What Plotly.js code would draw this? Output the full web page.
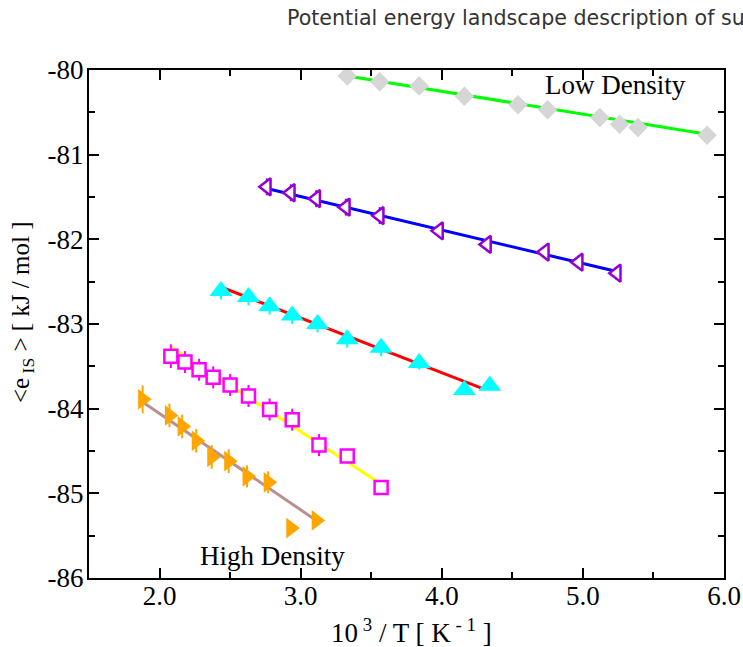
<!DOCTYPE html>
<html>
<head>
<meta charset="utf-8">
<script src="https://cdn.plot.ly/plotly-3.0.1.min.js"></script>
<style>html,body{margin:0;padding:0;background:#fff;}#chart{width:743px;height:647px;}</style>
</head>
<body>
<div id="chart"></div>
<script>
// ---- Data ----
// Low Density (grey diamonds, green fit)
var ldX = [3.33, 3.56, 3.84, 4.16, 4.54, 4.75, 5.12, 5.26, 5.39, 5.88];
var ldY = [-80.07, -80.14, -80.19, -80.31, -80.41, -80.47, -80.56, -80.64, -80.68, -80.77];
var ldFitX = [3.33, 5.88];
var ldFitY = [-80.07, -80.76];

// violet open left triangles, blue fit
var vX = [2.76, 2.93, 3.11, 3.32, 3.56, 3.98, 4.32, 4.73, 4.97, 5.24];
var vY = [-81.38, -81.45, -81.52, -81.62, -81.72, -81.90, -82.06, -82.15, -82.27, -82.40];
var vErr = [0.10, 0.10, 0.10, 0.10, 0.10, 0.08, 0.08, 0.08, 0.08, 0.08];
var vFitX = [2.76, 5.24];
var vFitY = [-81.40, -82.38];

// cyan up triangles, red fit
var cX = [2.435, 2.63, 2.78, 2.94, 3.12, 3.33, 3.57, 3.84, 4.16, 4.34];
var cY = [-82.61, -82.68, -82.79, -82.90, -83.00, -83.18, -83.28, -83.46, -83.78, -83.73];
var cErr = [0.10, 0.10, 0.10, 0.10, 0.10, 0.10, 0.10, 0.08, 0.0, 0.0];
var cFitX = [2.43, 4.30];
var cFitY = [-82.56, -83.77];

// magenta open squares, yellow fit
var mX = [2.08, 2.18, 2.28, 2.38, 2.50, 2.63, 2.78, 2.94, 3.13, 3.33, 3.57];
var mY = [-83.38, -83.45, -83.54, -83.63, -83.72, -83.85, -84.01, -84.13, -84.43, -84.56, -84.93];
var mErr = [0.14, 0.13, 0.13, 0.13, 0.13, 0.13, 0.13, 0.13, 0.13, 0.05, 0.05];
var mFitX = [2.08, 3.57];
var mFitY = [-83.27, -84.89];

// orange right triangles, brown fit (High Density)
var oX = [1.88, 2.07, 2.16, 2.26, 2.37, 2.49, 2.62, 2.77, 2.93, 3.11];
var oY = [-83.89, -84.08, -84.21, -84.38, -84.57, -84.62, -84.80, -84.87, -85.41, -85.32];
var oErr = [0.165, 0.14, 0.14, 0.14, 0.14, 0.14, 0.13, 0.13, 0.0, 0.0];
var oFitX = [1.88, 3.11];
var oFitY = [-83.92, -85.32];

// ticks
var xTickVals = [2, 3, 4, 5, 6];
var xTickLabels = ['2.0', '3.0', '4.0', '5.0', '6.0'];
var yTickVals = [-86, -85, -84, -83, -82, -81, -80];
var yTickLabels = ['-86', '-85', '-84', '-83', '-82', '-81', '-80'];

var serif = 'Liberation Serif';

function fitLine(x, y, color) {
  return {x: x, y: y, type: 'scatter', mode: 'lines', line: {color: color, width: 3}, hoverinfo: 'skip', showlegend: false};
}
function pts(x, y, err, symbol, size, fill, lineColor, lw) {
  var t = {x: x, y: y, type: 'scatter', mode: 'markers', showlegend: false,
    marker: {symbol: symbol, size: size, color: fill, line: {color: lineColor, width: lw}}};
  if (err) t.error_y = {type: 'data', array: err, visible: true, color: lineColor, thickness: 2, width: 0};
  return t;
}

var data = [
  fitLine(ldFitX, ldFitY, '#00ff00'),
  fitLine(vFitX, vFitY, '#0000ff'),
  fitLine(cFitX, cFitY, '#ff0000'),
  fitLine(mFitX, mFitY, '#ffff00'),
  fitLine(oFitX, oFitY, '#bc8f8f'),
  pts(ldX, ldY, null, 'diamond', 15, '#d6d6d6', '#d6d6d6', 0),
  pts(vX, vY, vErr, 'triangle-left', 15, '#ffffff', '#9400d3', 2.5),
  pts(cX, cY, cErr, 'triangle-up', 20, '#00ffff', '#00ffff', 0),
  pts(mX, mY, mErr, 'square', 13, '#ffffff', '#ff00ff', 2.5),
  pts(oX, oY, oErr, 'triangle-right', 18, '#ffa500', '#ffa500', 0)
];

var axisCommon = {
  showline: true, linecolor: '#000', linewidth: 2, mirror: 'allticks',
  ticks: 'inside', ticklen: 10, tickwidth: 2, tickcolor: '#000',
  showgrid: false, zeroline: false,
  tickfont: {family: serif, size: 27, color: '#000'},
  fixedrange: true
};

var layout = {
  width: 743, height: 647,
  margin: {l: 89, r: 19, t: 70, b: 69},
  paper_bgcolor: '#fff', plot_bgcolor: '#fff',
  font: {family: serif, size: 26, color: '#000'},
  showlegend: false,
  xaxis: Object.assign({}, axisCommon, {
    range: [1.5, 6.0], tickmode: 'array', tickvals: xTickVals, ticktext: xTickLabels,
    ticklabelstandoff: -7,
    minor: {tickmode: 'linear', tick0: 1.5, dtick: 0.5, ticks: 'inside', ticklen: 6, tickwidth: 2, tickcolor: '#000'}
  }),
  yaxis: Object.assign({}, axisCommon, {
    range: [-86, -80], tickmode: 'array', tickvals: yTickVals, ticktext: yTickLabels,
    ticklabelstandoff: -2,
    minor: {tickmode: 'linear', tick0: -86, dtick: 0.5, ticks: 'inside', ticklen: 6, tickwidth: 2, tickcolor: '#000'}
  }),
  annotations: [
    {text: 'Potential energy landscape description of sup', xref: 'paper', yref: 'paper',
     x: (285 - 89) / 635, y: 1 + (70 - 18) / 508, xanchor: 'left', yanchor: 'middle', showarrow: false,
     font: {family: 'DejaVu Sans', size: 20.6, color: '#333'}},
    {text: '10<sup> 3</sup> / T [ K<sup> - 1</sup> ]', xref: 'paper', yref: 'paper',
     x: (411 - 89) / 635, y: (578 - 631) / 508, xanchor: 'center', yanchor: 'middle', showarrow: false,
     font: {family: serif, size: 27, color: '#000'}},
    {text: '&lt;e<sub> IS</sub> &gt; [ kJ / mol ]', xref: 'paper', yref: 'paper', textangle: -90,
     x: (22 - 89) / 635, y: (578 - 313) / 508, xanchor: 'center', yanchor: 'middle', showarrow: false,
     font: {family: serif, size: 25, color: '#000'}},
    {text: 'Low Density', xref: 'x', yref: 'y', x: 5.23, y: -80.18, xanchor: 'center', yanchor: 'middle',
     showarrow: false, font: {family: serif, size: 27, color: '#000'}},
    {text: 'High Density', xref: 'x', yref: 'y', x: 2.80, y: -85.74, xanchor: 'center', yanchor: 'middle',
     showarrow: false, font: {family: serif, size: 27, color: '#000'}}
  ]
};

Plotly.newPlot('chart', data, layout, {staticPlot: true, displayModeBar: false});
</script>
</body>
</html>
